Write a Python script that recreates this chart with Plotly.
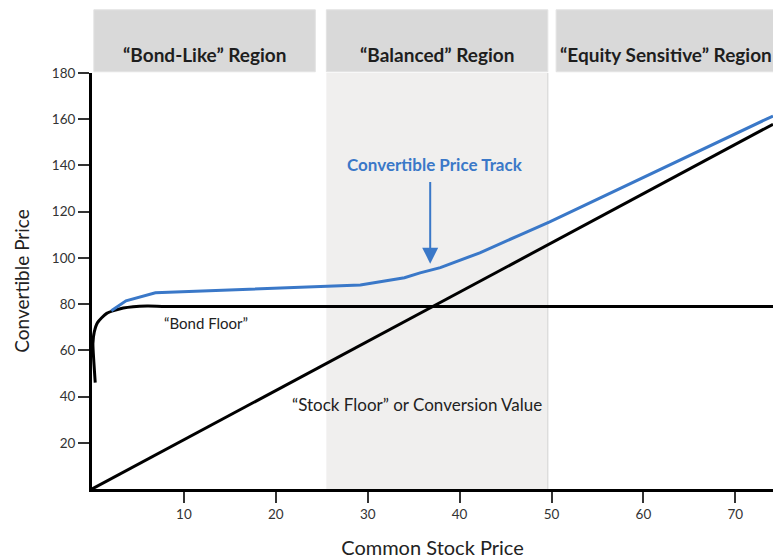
import plotly.graph_objects as go

# ---- data ----
conv_x = [2.1, 3.7, 6.9, 29.2, 34.0, 35.7, 37.9, 42.2, 46.6, 49.8, 74.1]
conv_y = [77.1, 81.4, 84.9, 88.3, 91.4, 93.5, 95.8, 102.2, 110.0, 115.6, 161.4]

bond_x = [0.35, 0.2, 0.1, 0.25, 0.6, 1.6, 3.4, 6.0, 8.0, 74.1]
bond_y = [46, 55, 63, 68, 72, 76, 78.3, 79.2, 79, 79]

stock_x = [0, 74.1]
conversion_ratio = 2.13
stock_y = [v * conversion_ratio for v in stock_x]

regions = ["\u201cBond-Like\u201d Region", "\u201cBalanced\u201d Region", "\u201cEquity Sensitive\u201d Region"]
region_x0 = [0.2, 25.5, 50.5]
region_x1 = [24.3, 49.6, 80.0]
region_label_x = [12.3, 37.5, 62.5]

x_ticks = [10, 20, 30, 40, 50, 60, 70]
y_ticks = [20, 40, 60, 80, 100, 120, 140, 160, 180]

BLUE = "#3a78c8"
FONT = "Lato"

fig = go.Figure()

fig.add_trace(go.Scatter(x=stock_x, y=stock_y, mode="lines",
                         line=dict(color="black", width=3), hoverinfo="skip"))
fig.add_trace(go.Scatter(x=bond_x, y=bond_y, mode="lines",
                         line=dict(color="black", width=3, shape="spline", smoothing=0.6),
                         hoverinfo="skip"))
fig.add_trace(go.Scatter(x=conv_x, y=conv_y, mode="lines",
                         line=dict(color=BLUE, width=3), hoverinfo="skip"))

shapes = []
# balanced shading
shapes.append(dict(type="rect", xref="x", yref="y", x0=region_x0[1], x1=region_x1[1], y0=0, y1=180,
                   fillcolor="#f0efee", line=dict(width=0), layer="below"))
shapes.append(dict(type="line", xref="x", yref="y", x0=region_x1[1], x1=region_x1[1], y0=0, y1=180,
                   line=dict(color="#d2d2d2", width=1), layer="below"))
for x0, x1 in zip(region_x0, region_x1):
    shapes.append(dict(type="rect", xref="x", yref="paper", x0=x0, x1=x1, y0=1.003, y1=1.152,
                       fillcolor="#d9d9d9", line=dict(color="#e3e3e3", width=1)))

annotations = []
for lab, lx in zip(regions, region_label_x):
    annotations.append(dict(x=lx, y=1.077, xref="x", yref="paper", text="<b>" + lab + "</b>",
                            showarrow=False, font=dict(family=FONT, size=19, color="#1e1e1e")))

annotations.append(dict(x=37.35, y=140.4, xref="x", yref="y", text="<b>Convertible Price Track</b>",
                        showarrow=False, font=dict(family=FONT, size=17, color=BLUE)))
annotations.append(dict(x=36.8, y=97.5, ax=36.8, ay=133.5, xref="x", yref="y", axref="x", ayref="y",
                        text="", showarrow=True, arrowhead=2, arrowsize=1.6, arrowwidth=2,
                        arrowcolor=BLUE))
annotations.append(dict(x=12.4, y=72, xref="x", yref="y", text="\u201cBond Floor\u201d",
                        showarrow=False, font=dict(family=FONT, size=15, color="#222")))
annotations.append(dict(x=35.4, y=36.5, xref="x", yref="y",
                        text="\u201cStock Floor\u201d or Conversion Value",
                        showarrow=False, font=dict(family=FONT, size=17, color="#222")))

fig.update_layout(
    width=773, height=559,
    margin=dict(l=92, r=0, t=73, b=70),
    plot_bgcolor="white", paper_bgcolor="white",
    showlegend=False,
    shapes=shapes, annotations=annotations,
    font=dict(family=FONT, color="#333"),
    xaxis=dict(range=[0, 74.1], tickvals=x_ticks, showgrid=False, zeroline=False,
               showline=True, linecolor="black", linewidth=3,
               ticks="outside", ticklen=11, tickwidth=1.5, tickcolor="#333",
               tickfont=dict(family=FONT, size=13.5, color="#333"),
               title=dict(text="Common Stock Price", font=dict(family=FONT, size=20, color="#222"),
                          standoff=22)),
    yaxis=dict(range=[0, 180], tickvals=y_ticks, showgrid=False, zeroline=False,
               showline=True, linecolor="black", linewidth=3,
               ticks="outside", ticklen=11, tickwidth=1.5, tickcolor="#333",
               tickfont=dict(family=FONT, size=13.5, color="#333"),
               title=dict(text="Convertible Price", font=dict(family=FONT, size=19, color="#222"),
                          standoff=18)),
)

fig.write_html("out.html", config={"displayModeBar": False},
               post_script="document.body.style.margin='0';document.body.style.overflow='hidden';")
